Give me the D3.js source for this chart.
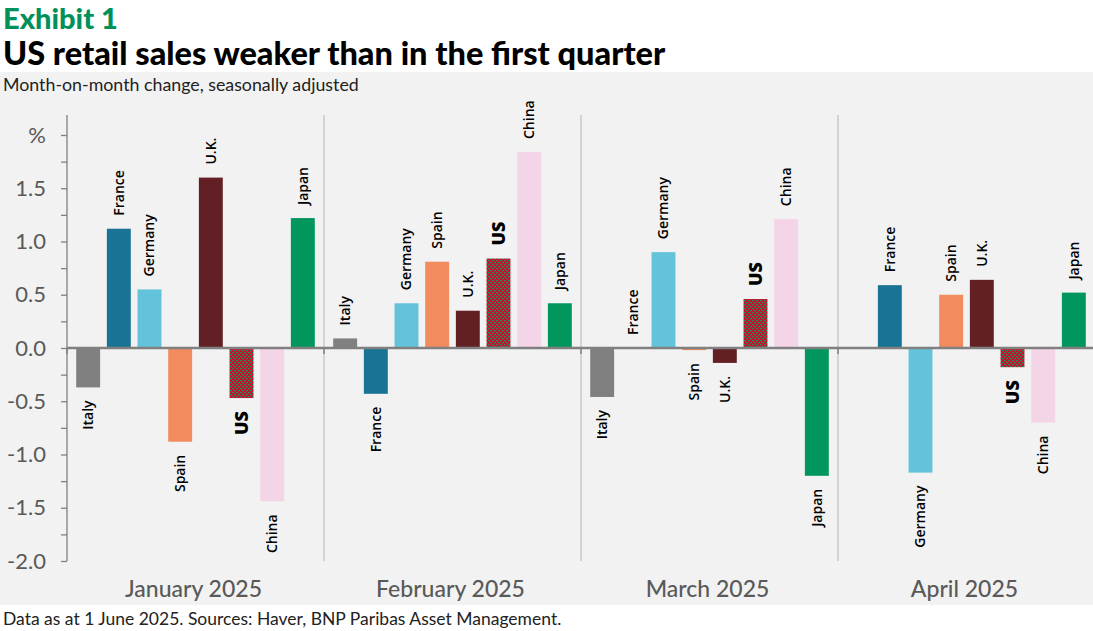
<!DOCTYPE html>
<html>
<head>
<meta charset="utf-8">
<script src="https://cdn.jsdelivr.net/npm/d3@7"></script>
<style>
body { margin: 0; background: #fff; }
svg { display: block; }
</style>
</head>
<body>
<div id="chart"></div>
<script>
var months = ["January 2025", "February 2025", "March 2025", "April 2025"]
var countries = ["Italy", "France", "Germany", "Spain", "U.K.", "US", "China", "Japan"]
var jan = [-0.37, 1.12, 0.55, -0.88, 1.60, -0.47, -1.44, 1.22]
var feb = [0.09, -0.43, 0.42, 0.81, 0.35, 0.84, 1.84, 0.42]
var mar = [-0.46, 0.00, 0.90, -0.02, -0.14, 0.46, 1.21, -1.20]
var apr = [null, 0.59, -1.17, 0.50, 0.64, -0.18, -0.70, 0.52]
var yTickValues = [-2.0, -1.75, -1.5, -1.25, -1.0, -0.75, -0.5, -0.25, 0.0, 0.25, 0.5, 0.75, 1.0, 1.25, 1.5, 1.75, 2.0]
var yTickLabels = {"-2": "-2.0", "-1.5": "-1.5", "-1": "-1.0", "-0.5": "-0.5", "0": "0.0", "0.5": "0.5", "1": "1.0", "1.5": "1.5", "2": "%"}

var colors = {
    "Italy": "#808080",
    "France": "#187394",
    "Germany": "#62c3da",
    "Spain": "#f28b5e",
    "U.K.": "#632024",
    "US": "url(#usPattern)",
    "China": "#f4d4e7",
    "Japan": "#00965e"
}

var W = 1093, H = 631
var svg = d3.select("#chart").append("svg").attr("width", W).attr("height", H)

// pattern for the US bars: red with small green dashes
var pat = svg.append("defs").append("pattern")
    .attr("id", "usPattern")
    .attr("patternUnits", "userSpaceOnUse")
    .attr("width", 4).attr("height", 4)
pat.append("rect").attr("width", 4).attr("height", 4).attr("fill", "#c8102e")
pat.append("rect").attr("x", 0).attr("y", 0).attr("width", 2).attr("height", 1.2).attr("fill", "#0a9a5a")
pat.append("rect").attr("x", 2).attr("y", 2).attr("width", 2).attr("height", 1.2).attr("fill", "#0a9a5a")

// grey panel
svg.append("rect").attr("x", 0).attr("y", 72).attr("width", W).attr("height", 533).attr("fill", "#f2f2f2")

// titles
svg.append("text").attr("x", 3).attr("y", 29)
    .style("font-family", "Lato").style("font-weight", 900).style("font-size", "29px")
    .attr("fill", "#00915a").text("Exhibit 1")
svg.append("text").attr("x", 3).attr("y", 65)
    .style("font-family", "Lato").style("font-weight", 900).style("font-size", "32.5px")
    .attr("fill", "#000").text("US retail sales weaker than in the first quarter")
svg.append("text").attr("x", 3).attr("y", 91)
    .style("font-family", "Lato").style("font-size", "17.8px")
    .attr("fill", "#222").text("Month-on-month change, seasonally adjusted")
svg.append("text").attr("x", 3).attr("y", 625)
    .style("font-family", "Lato").style("font-size", "17.5px")
    .attr("fill", "#222").text("Data as at 1 June 2025. Sources: Haver, BNP Paribas Asset Management.")

var left = 67, right = 1095
var y = d3.scaleLinear().domain([-2, 2]).range([561, 135])
var x0 = d3.scaleBand().domain(months).range([left, right])
var x1 = d3.scaleBand().domain(countries).range([0, x0.bandwidth()]).paddingInner(0.22).paddingOuter(0.3)

var series = [jan, feb, mar, apr]
var rows = []
months.forEach(function(m, i) {
    countries.forEach(function(c, j) {
        rows.push({month: m, country: c, value: series[i][j]})
    })
})

// month dividers
svg.append("g").selectAll("line")
    .data(months.slice(1))
    .enter().append("line")
    .attr("x1", function(d) { return x0(d) }).attr("x2", function(d) { return x0(d) })
    .attr("y1", 115).attr("y2", 561)
    .attr("stroke", "#bfbfbf").attr("stroke-width", 1.2)

// y axis
var yAxis = d3.axisLeft(y)
    .tickValues(yTickValues)
    .tickSize(6)
    .tickPadding(15)
    .tickFormat(function(d) { return yTickLabels[String(d)] || "" })
var ga = svg.append("g").attr("transform", "translate(" + left + ",0)").call(yAxis)
ga.select(".domain").remove()
ga.append("line").attr("x1", 0).attr("x2", 0).attr("y1", 115).attr("y2", 561).attr("stroke", "#808080").attr("stroke-width", 1.3)
ga.selectAll(".tick line").attr("stroke", "#808080").attr("stroke-width", 1.3)
ga.selectAll(".tick text")
    .style("font-family", "Lato").style("font-size", "22px").attr("fill", "#595959")

// bars
var bars = svg.append("g")
bars.selectAll("rect")
    .data(rows.filter(function(d) { return d.value !== null }))
    .enter().append("rect")
    .attr("x", function(d) { return x0(d.month) + x1(d.country) })
    .attr("width", x1.bandwidth())
    .attr("y", function(d) { return y(Math.max(0, d.value)) })
    .attr("height", function(d) { return Math.abs(y(d.value) - y(0)) })
    .attr("fill", function(d) { return colors[d.country] })

// zero line and category ticks
svg.append("line").attr("x1", left).attr("x2", W).attr("y1", y(0)).attr("y2", y(0))
    .attr("stroke", "#808080").attr("stroke-width", 2.5)
svg.append("g").selectAll("line")
    .data(months)
    .enter().append("line")
    .attr("x1", function(d) { return x0(d) }).attr("x2", function(d) { return x0(d) })
    .attr("y1", y(0)).attr("y2", y(0) + 6)
    .attr("stroke", "#808080").attr("stroke-width", 1.5)

// bar labels
svg.append("g").selectAll("text")
    .data(rows.filter(function(d) { return d.value !== null }))
    .enter().append("text")
    .attr("transform", function(d) {
        var cx = x0(d.month) + x1(d.country) + x1.bandwidth() / 2
        var yy = d.value >= 0 ? y(d.value) - 13 : y(d.value) + 13
        return "translate(" + cx + "," + yy + ") rotate(-90)"
    })
    .attr("dy", "0.35em")
    .attr("text-anchor", function(d) { return d.value >= 0 ? "start" : "end" })
    .style("font-family", "Open Sans")
    .style("font-size", function(d) { return d.country == "US" ? "18px" : "14px" })
    .style("font-weight", function(d) { return d.country == "US" ? 800 : 600 })
    .attr("fill", "#000")
    .text(function(d) { return d.country })

// month labels
svg.append("g").selectAll("text")
    .data(months)
    .enter().append("text")
    .attr("x", function(d) { return x0(d) + x0.bandwidth() / 2 - 2 })
    .attr("y", 597)
    .attr("text-anchor", "middle")
    .style("font-family", "Lato").style("font-size", "23px").style("font-weight", 500)
    .attr("fill", "#595959")
    .text(function(d) { return d })
</script>
</body>
</html>
